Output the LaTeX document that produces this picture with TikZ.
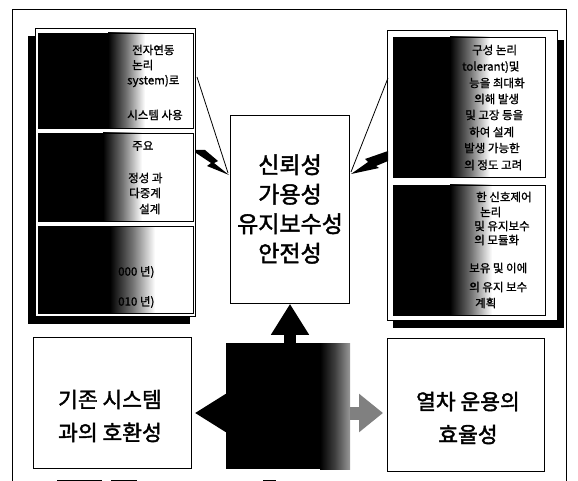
\documentclass[tikz,border=0pt]{standalone}
\usepackage{fontspec}
\newfontfamily\kr{Noto Sans CJK KR}[FakeBold=1.2]
\newfontfamily\krb{Noto Sans CJK KR}[FakeBold=1.8]
\usetikzlibrary{arrows.meta}
\begin{document}
\begin{tikzpicture}[x=1pt,y=-1pt,
  boxline/.style={draw=black, line width=0.8pt},
  small/.style={font=\kr\fontsize{11.5}{13}\selectfont, anchor=west, inner sep=0pt},
  big/.style={font=\krb\fontsize{23}{29.5}\selectfont, align=center, inner sep=0pt},
  mid/.style={font=\krb\fontsize{21.5}{33}\selectfont, align=center, inner sep=0pt},
  blockarrow/.style={line width=12pt, -{Triangle[width=36pt,length=31pt]}},
]
\useasboundingbox (0,0) rectangle (578,481);
\fill[white] (0,0) rectangle (578,481);
% outer frame
\draw[line width=0.9pt] (12,481) -- (12,9) -- (566,9) -- (566,481);
\draw[line width=0.8pt] (57,480) -- (102,480) (111,480) -- (137,480) (263,480) -- (276,480);

% ---------- left stack ----------
\fill[black] (28,36) rectangle (190,324);
\draw[boxline, fill=white] (35,28) rectangle (195,316);
\fill[black] (38,33) rectangle (108,128);
\shade[left color=black, right color=white, middle color=black!55] (108,33) rectangle (145,128);
\fill[black] (38,133) rectangle (103,221);
\shade[left color=black, right color=white, middle color=black!55] (103,133) rectangle (142,221);
\fill[black] (38,226) rectangle (110,313);
\shade[left color=black, right color=white, middle color=black!55] (110,226) rectangle (155,313);
\node[boxline, anchor=north west, minimum width=155pt, minimum height=95pt, inner sep=0pt] (lb1) at (38,33) {};
\node[boxline, anchor=north west, minimum width=155pt, minimum height=88pt, inner sep=0pt] (lb2) at (38,133) {};
\node[boxline, anchor=north west, minimum width=155pt, minimum height=87pt, inner sep=0pt] (lb3) at (38,226) {};
\foreach \x/\y/\t [count=\i] in {132/50/전자연동, 132/65/논리, 127/81/system)로, 127/115/시스템 사용,
  132/146/주요, 128/178/정성 과, 129/193/다중계, 139/209/설계,
  118/272/000 년), 118/302/010 년)}
  \node[small] (lt\i) at (\x,\y) {\t};

% ---------- right stack ----------
\fill[black] (393,40) rectangle (564,328);
\draw[boxline, fill=white] (387,30) rectangle (557,320);
\fill[black] (393,37) rectangle (450,177);
\shade[left color=black, right color=white, middle color=black!55] (450,37) rectangle (490,177);
\fill[black] (393,185) rectangle (450,315);
\shade[left color=black, right color=white, middle color=black!55] (450,185) rectangle (492,315);
\node[boxline, anchor=north west, minimum width=152pt, minimum height=140pt, inner sep=0pt] (rb1) at (393,37) {};
\node[boxline, anchor=north west, minimum width=152pt, minimum height=130pt, inner sep=0pt] (rb2) at (393,185) {};
\foreach \x/\y/\t [count=\i] in {472/50/구성 논리, 462/67/tolerant)및, 469/83/능을 최대화, 474/99/의해 발생,
  465/115/및 고장 등을, 469/132/하여 설계, 464/148/발생 가능한, 464/165/의 정도 고려,
  476/197/한 신호제어, 480/212/논리, 474/226/및 유지보수, 474/240/의 모듈화,
  469/268/보유 및 이에, 469/287/의 유지 보수, 475/303/계획}
  \node[small] (rt\i) at (\x,\y) {\t};

% ---------- central box ----------
\node[boxline, fill=white, anchor=north west, minimum width=119pt, minimum height=188pt, inner sep=0pt] (rel) at (230,115) {};
\node[big] (reltext) at (290,209) {신뢰성\\가용성\\유지보수성\\안전성};

% callouts
\coordinate (lc1) at (197,77);
\coordinate (lc2) at (228,173);
\draw[line width=0.8pt] (lc1) -- (lc2);
\fill[black] (196,150) -- (205,150) -- (218,161) -- (214,163) -- (229,175) -- (207,166) -- (211,163) -- (196,153) -- cycle;
\coordinate (rc1) at (388,78);
\coordinate (rc2) at (351,172);
\draw[line width=0.8pt] (rc1) -- (rc2);
\fill[black] (351,174) -- (368,162) -- (365,159) -- (388,151) -- (388,161) -- (376,166) -- (379,168) -- cycle;

% ---------- bottom row ----------
\node[boxline, anchor=north west, minimum width=158pt, minimum height=131pt, inner sep=0pt] (lbox) at (33,337) {};
\node[mid] (ltext) at (110,416) {기존 시스템\\과의 호환성};
\node[boxline, anchor=north west, minimum width=157pt, minimum height=133pt, inner sep=0pt] (rbox) at (387,338) {};
\node[mid] (rtext) at (468,418) {열차 운용의\\효율성};

\fill[black] (226,343) rectangle (320,469);
\shade[left color=black, right color=black!40, middle color=black!75] (320,343) rectangle (350,469);
\node[anchor=north west, minimum width=124pt, minimum height=126pt, inner sep=0pt] (dark) at (226,343) {};

\coordinate (ay) at (0,413);
\coordinate (ux) at (290,0);
\draw[blockarrow, draw=black, fill=black] (dark.north -| ux) -- (rel.south -| ux);
\draw[blockarrow, draw=black, fill=black] (dark.west |- ay) -- ([xshift=3pt]lbox.east |- ay);
\draw[line width=13pt, draw=black!50, -{Triangle[width=37pt,length=24pt, fill=black!50]}] (dark.east |- ay) -- ([xshift=-4pt]rbox.west |- ay);
\end{tikzpicture}
\end{document}
